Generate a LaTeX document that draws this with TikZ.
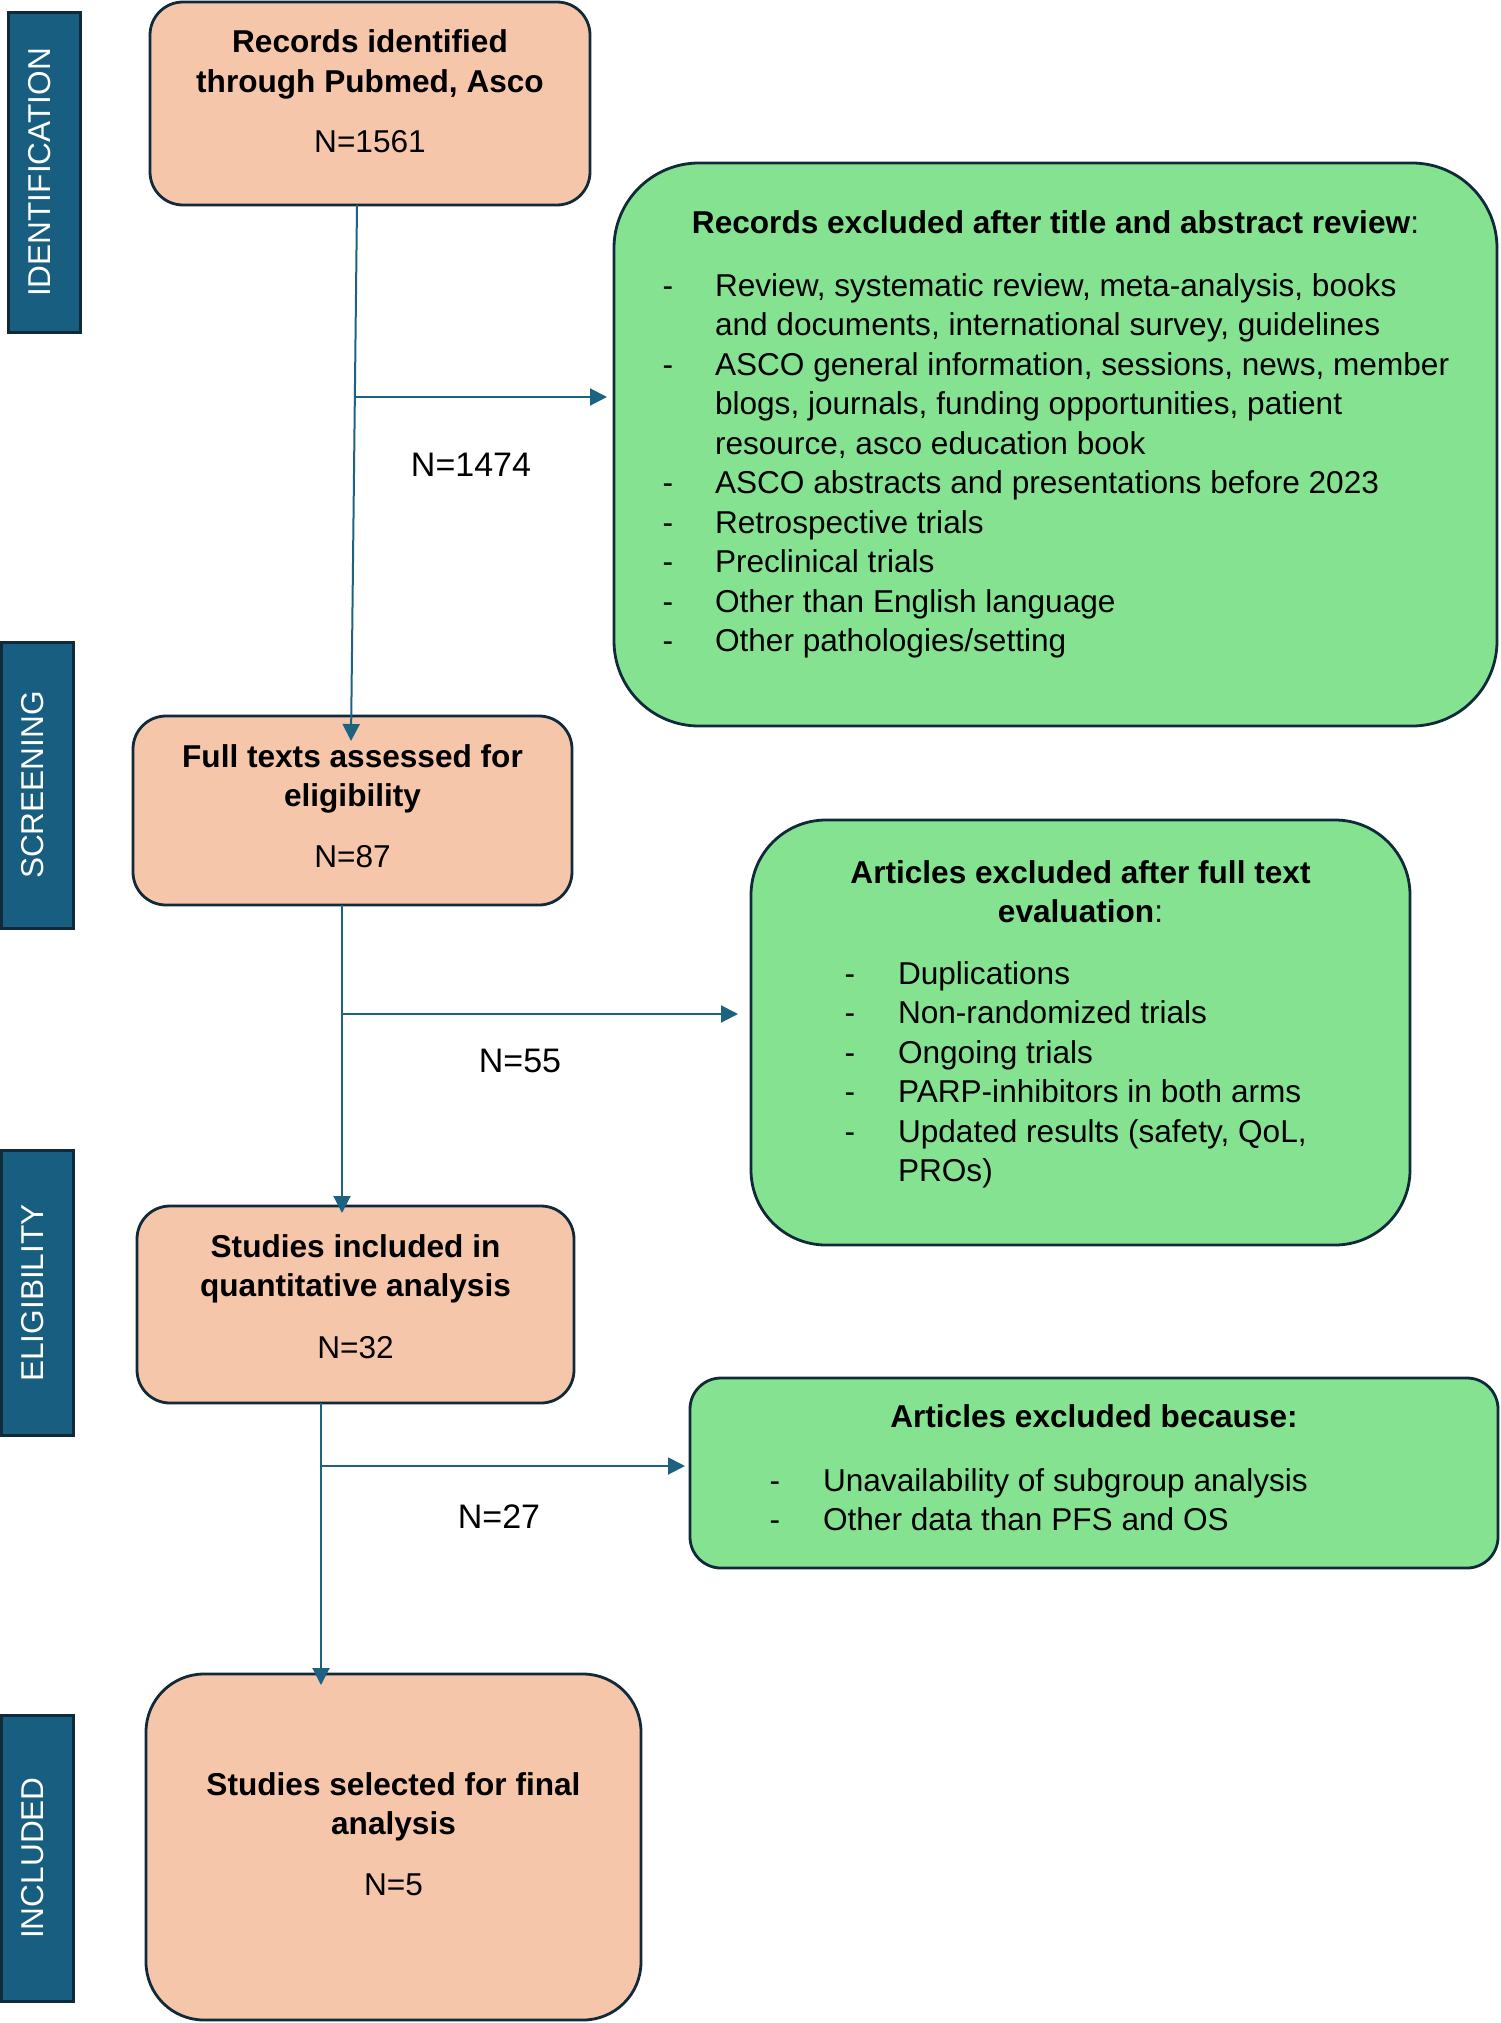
\documentclass[tikz,border=0pt]{standalone}
\usepackage{fontspec}
\setmainfont{Liberation Sans}
\usetikzlibrary{arrows.meta,calc}
\definecolor{peach}{RGB}{246,198,171}
\definecolor{mint}{RGB}{132,226,145}
\definecolor{navy}{RGB}{16,42,58}
\definecolor{sideblue}{RGB}{24,94,128}
\definecolor{arrowc}{RGB}{30,98,130}
\begin{document}
\begin{tikzpicture}[x=1pt,y=-1pt,
  every node/.style={inner sep=0pt, outer sep=0pt},
  pbox/.style={draw=navy, line width=2.8pt, fill=peach, anchor=north west},
  gbox/.style={draw=navy, line width=2.8pt, fill=mint, anchor=north west},
  side/.style={draw=navy, line width=3pt, fill=sideblue, text=white, rotate=90,
    font=\fontsize{31.6}{37}\selectfont, text depth=10pt, minimum height=72pt},
  tx/.style={anchor=base, font=\fontsize{31.6}{37}\selectfont},
  nl/.style={anchor=base, font=\fontsize{34}{40}\selectfont},
  bt/.style={anchor=base, font=\fontsize{31.6}{37}\selectfont\bfseries},
  lt/.style={anchor=base west, font=\fontsize{31.6}{37}\selectfont},
  arr/.style={draw=arrowc, line width=2pt, -{Triangle[length=17pt,width=17pt]}}
]
\useasboundingbox (0,0) rectangle (1500,2023);

% side labels
\node[side, minimum width=319pt] (s1) at (44.5,172.5) {IDENTIFICATION};
\node[side, minimum width=286pt] (s2) at (37,785) {SCREENING};
\node[side, minimum width=285pt] (s3) at (37,1293) {ELIGIBILITY};
\node[side, minimum width=286pt] (s4) at (37,1858) {INCLUDED};

% peach boxes
\node[pbox, rounded corners=33pt, minimum width=440pt, minimum height=203pt] (b1) at (150,2) {};
\node[pbox, rounded corners=33pt, minimum width=439pt, minimum height=189pt] (b2) at (133,716) {};
\node[pbox, rounded corners=33pt, minimum width=437pt, minimum height=197pt] (b3) at (137,1206) {};
\node[pbox, rounded corners=58pt, minimum width=495pt, minimum height=346pt] (b4) at (146,1674) {};

% green boxes
\node[gbox, rounded corners=85pt, minimum width=883pt, minimum height=563pt] (g1) at (614,163) {};
\node[gbox, rounded corners=75pt, minimum width=659pt, minimum height=425pt] (g2) at (751,820) {};
\node[gbox, rounded corners=31pt, minimum width=808pt, minimum height=190pt] (g3) at (690,1378) {};

% texts of peach boxes
\node[bt] (b1t1) at (370,53) {Records identified};
\node[bt] (b1t2) at (370,92.5) {through Pubmed, Asco};
\node[tx] (b1n) at (370,153) {N=1561};

\node[bt] (b2t1) at (352.5,767) {Full texts assessed for};
\node[bt] (b2t2) at (352.5,806) {eligibility};
\node[tx] (b2n) at (352.5,867) {N=87};

\node[bt] (b3t1) at (355.5,1257) {Studies included in};
\node[bt] (b3t2) at (355.5,1296) {quantitative analysis};
\node[tx] (b3n) at (355.5,1358) {N=32};

\node[bt] (b4t1) at (393.5,1795) {Studies selected for final};
\node[bt] (b4t2) at (393.5,1834) {analysis};
\node[tx] (b4n) at (393.5,1895) {N=5};

% green box 1
\node[tx] (g1t) at (1055.5,233) {\textbf{Records excluded after title and abstract review}:};
\node[tx] (g1d1) at (668,296) {-};
\node[lt] (g1l1) at (715,296) {Review, systematic review, meta-analysis, books};
\node[lt] (g1l2) at (715,335.5) {and documents, international survey, guidelines};
\node[tx] (g1d2) at (668,375) {-};
\node[lt] (g1l3) at (715,375) {ASCO general information, sessions, news, member};
\node[lt] (g1l4) at (715,414.5) {blogs, journals, funding opportunities, patient};
\node[lt] (g1l5) at (715,454) {resource, asco education book};
\node[tx] (g1d3) at (668,493.5) {-};
\node[lt] (g1l6) at (715,493.5) {ASCO abstracts and presentations before 2023};
\node[tx] (g1d4) at (668,533) {-};
\node[lt] (g1l7) at (715,533) {Retrospective trials};
\node[tx] (g1d5) at (668,572.5) {-};
\node[lt] (g1l8) at (715,572.5) {Preclinical trials};
\node[tx] (g1d6) at (668,612) {-};
\node[lt] (g1l9) at (715,612) {Other than English language};
\node[tx] (g1d7) at (668,651.5) {-};
\node[lt] (g1l10) at (715,651.5) {Other pathologies/setting};

% green box 2
\node[bt] (g2t1) at (1080.5,883) {Articles excluded after full text};
\node[tx] (g2t2) at (1080.5,922) {\textbf{evaluation}:};
\node[tx] (g2d1) at (850,984) {-};
\node[lt] (g2l1) at (898,984) {Duplications};
\node[tx] (g2d2) at (850,1023.5) {-};
\node[lt] (g2l2) at (898,1023.5) {Non-randomized trials};
\node[tx] (g2d3) at (850,1063) {-};
\node[lt] (g2l3) at (898,1063) {Ongoing trials};
\node[tx] (g2d4) at (850,1102.5) {-};
\node[lt] (g2l4) at (898,1102.5) {PARP-inhibitors in both arms};
\node[tx] (g2d5) at (850,1142) {-};
\node[lt] (g2l5) at (898,1142) {Updated results (safety, QoL,};
\node[lt] (g2l6) at (898,1181.5) {PROs)};

% green box 3
\node[bt] (g3t) at (1094,1427.5) {Articles excluded because:};
\node[tx] (g3d1) at (775,1491) {-};
\node[lt] (g3l1) at (823,1491) {Unavailability of subgroup analysis};
\node[tx] (g3d2) at (775,1530) {-};
\node[lt] (g3l2) at (823,1530) {Other data than PFS and OS};

% N labels
\node[nl] (n1) at (471,476) {N=1474};
\node[nl] (n2) at (520,1072) {N=55};
\node[nl] (n3) at (499,1528) {N=27};

% connectors
\draw[arr] ([xshift=-13pt]b1.south) -- ([xshift=-1.5pt,yshift=-25pt]b2.north);
\coordinate (j1) at (355,397);
\draw[arr, shorten >=7pt] (j1) -- (g1.west |- j1);

\draw[arr] ([xshift=-10.5pt]b2.south) -- ([xshift=-13.5pt,yshift=-7pt]b3.north);
\coordinate (j2) at (341,1014);
\draw[arr, shorten >=13pt] (j2) -- (g2.west |- j2);

\draw[arr] ([xshift=-34.5pt]b3.south) -- ([xshift=-72.5pt,yshift=-11pt]b4.north);
\coordinate (j3) at (321,1466);
\draw[arr, shorten >=5pt] (j3) -- (g3.west |- j3);
\end{tikzpicture}
\end{document}
